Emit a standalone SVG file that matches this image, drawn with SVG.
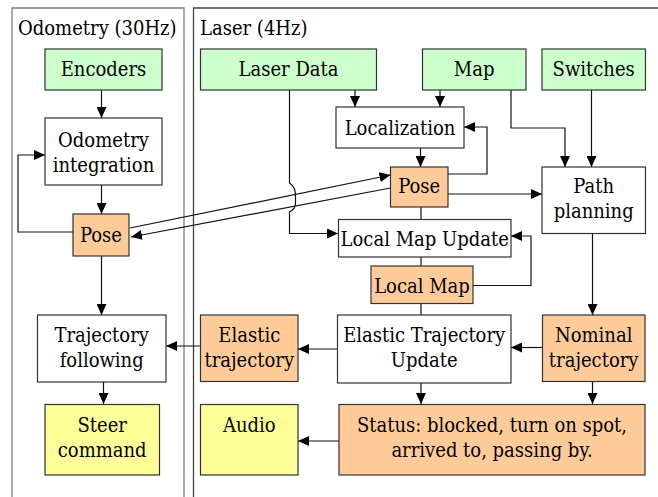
<svg xmlns="http://www.w3.org/2000/svg" width="658" height="497" viewBox="0 0 658 497">
<defs>
<marker id="ah" markerUnits="userSpaceOnUse" markerWidth="11" markerHeight="10" refX="11" refY="5" orient="auto">
<path d="M0,0 L11,5 L0,10 z" fill="#000"/>
</marker>
<style>
text{font-family:"DejaVu Serif Condensed","DejaVu Serif",serif;font-stretch:condensed;font-size:20px;fill:#000;text-anchor:middle}
.title{text-anchor:start}
.box{stroke:#333;stroke-width:1.2}
.w{fill:#fff}
.g{fill:#ccffcc}
.o{fill:#ffcc99}
.y{fill:#ffff99}
.frame{fill:none;stroke:#808080;stroke-width:1.3}
.c{fill:none;stroke:#111;stroke-width:1.2}
.a{marker-end:url(#ah)}
</style>
</defs>
<rect width="658" height="497" fill="#fff"/>
<g id="panels">
<path class="frame" d="M12,497 V8 H184 V497"/>
<path class="frame" d="M193.5,497 V8 H658" style="stroke:#444"/>
<text class="title" x="18" y="35">Odometry (30Hz)</text>
<text class="title" x="200" y="35">Laser (4Hz)</text>
</g>
<g id="connectors">
<path class="c a" d="M101.5,90 V118"/>
<path class="c a" d="M101.5,185 V214"/>
<path class="c a" d="M73,232 H18 V155 H45"/>
<path class="c a" d="M101.5,256 V315"/>
<path class="c a" d="M103.5,382 V404"/>
<path class="c a" d="M200.5,346 H166"/>
<path class="c a" d="M130,228 L390.5,175"/>
<path class="c a" d="M390.5,188 L131,237"/>
<path class="c a" d="M355,90 V107"/>
<path class="c a" d="M440,90 V107"/>
<path class="c a" d="M420.5,148 V167"/>
<path class="c a" d="M448,174 H487 V127 H464"/>
<path class="c a" d="M448,194 H542"/>
<path class="c a" d="M511,90 V128 H565 V167"/>
<path class="c a" d="M591.5,90 V167"/>
<path class="c a" d="M289.5,90 V183 Q295.5,187 295.5,195 V203 Q295.5,209 289.5,212 V233.5 H338"/>
<path class="c" d="M421,207 V219.5"/>
<path class="c" d="M421,257 V266"/>
<path class="c a" d="M473,285.5 H531 V236 H511"/>
<path class="c" d="M421,303 V315"/>
<path class="c a" d="M592.5,233 V315"/>
<path class="c a" d="M542,347.5 H511"/>
<path class="c a" d="M421,383 V404"/>
<path class="c a" d="M592.5,382 V404"/>
<path class="c a" d="M337.5,349 H298"/>
<path class="c a" d="M339,441 H298"/>
</g>
<g id="encoders"><rect class="box g" x="45" y="49" width="117" height="41"/><text x="103.5" y="76">Encoders</text></g>
<g id="odometry-integration"><rect class="box w" x="45" y="118" width="117" height="67"/><text x="103.5" y="146.5">Odometry</text><text x="103.5" y="171.5">integration</text></g>
<g id="pose-left"><rect class="box o" x="73" y="214" width="56" height="42"/><text x="101" y="241.5">Pose</text></g>
<g id="trajectory-following"><rect class="box w" x="37.5" y="315" width="128.5" height="67"/><text x="101.7" y="341.5">Trajectory</text><text x="101.7" y="366.5">following</text></g>
<g id="steer-command"><rect class="box y" x="45" y="404.5" width="114.5" height="70.5"/><text x="102.2" y="431.5">Steer</text><text x="102.2" y="456.5">command</text></g>
<g id="laser-data"><rect class="box g" x="200.5" y="49" width="176" height="41"/><text x="288.5" y="75.5">Laser Data</text></g>
<g id="map"><rect class="box g" x="422.5" y="49" width="103.5" height="41"/><text x="474.2" y="75.5">Map</text></g>
<g id="switches"><rect class="box g" x="542" y="49" width="103.5" height="41"/><text x="593.7" y="75.5">Switches</text></g>
<g id="localization"><rect class="box w" x="336" y="107" width="128" height="41"/><text x="400" y="135">Localization</text></g>
<g id="pose-right"><rect class="box o" x="390.5" y="167" width="57.5" height="40"/><text x="419.2" y="193.3">Pose</text></g>
<g id="path-planning"><rect class="box w" x="542" y="167" width="103.5" height="66.5"/><text x="593.7" y="193.3">Path</text><text x="593.7" y="218">planning</text></g>
<g id="local-map-update"><rect class="box w" x="338.5" y="219.5" width="172.5" height="37.5"/><text x="424.7" y="246">Local Map Update</text></g>
<g id="local-map"><rect class="box o" x="371" y="266" width="102" height="37.5"/><text x="422" y="293">Local Map</text></g>
<g id="elastic-trajectory"><rect class="box o" x="200.5" y="315" width="97.5" height="66.5"/><text x="249.3" y="341.5">Elastic</text><text x="249.3" y="366.5">trajectory</text></g>
<g id="elastic-trajectory-update"><rect class="box w" x="337.5" y="315" width="173.5" height="68"/><text x="424.2" y="341.5">Elastic Trajectory</text><text x="424.2" y="366.5">Update</text></g>
<g id="nominal-trajectory"><rect class="box o" x="542.5" y="315" width="102.5" height="66.5"/><text x="593.7" y="341.5">Nominal</text><text x="593.7" y="366.5">trajectory</text></g>
<g id="audio"><rect class="box y" x="200.5" y="404.5" width="97.5" height="70.5"/><text x="249.3" y="431.5">Audio</text></g>
<g id="status"><rect class="box o" x="339" y="404.5" width="306" height="70.5"/><text x="492" y="431.5">Status: blocked, turn on spot,</text><text x="492" y="456.5">arrived to, passing by.</text></g>
</svg>
